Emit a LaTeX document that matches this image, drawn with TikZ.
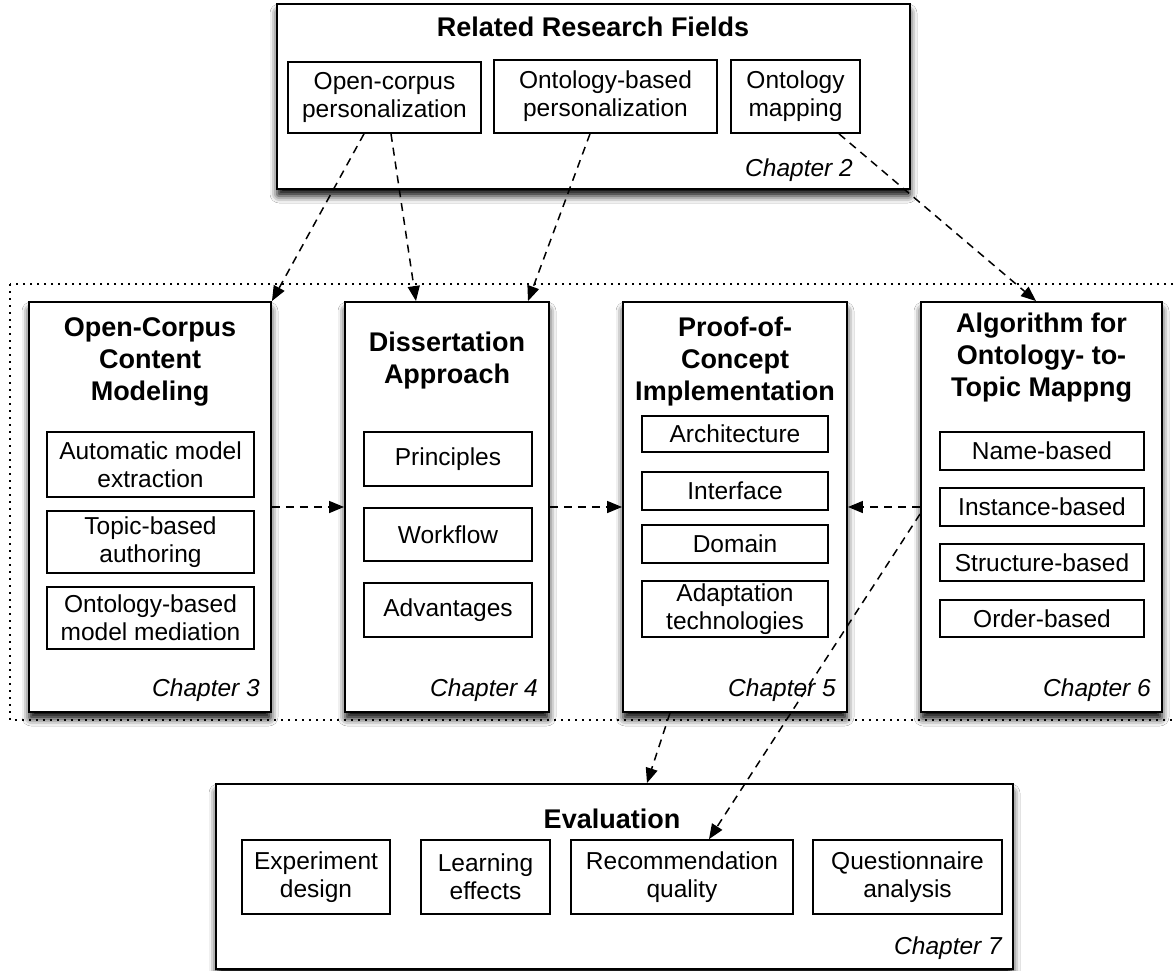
\documentclass[tikz,border=0pt]{standalone}
\usepackage{fontspec}
\setmainfont{Liberation Sans}
\usetikzlibrary{arrows.meta,shadows.blur}
\begin{document}
\begin{tikzpicture}[x=1pt,y=-1pt,
  frame/.style={draw, line width=1.9pt, fill=white, inner sep=0pt,
    blur shadow={shadow xshift=0pt, shadow yshift=-7pt, shadow blur radius=7pt,
      shadow blur extra rounding=2pt, shadow opacity=95}},
  item/.style={draw, line width=1.7pt, fill=white, inner sep=1pt, align=center,
    font=\fontsize{24.5}{28}\selectfont},
  heading/.style={inner sep=0pt, align=center, font=\fontsize{27}{32}\selectfont\bfseries},
  chapter/.style={inner sep=0pt, anchor=base east, font=\fontsize{24.5}{28}\selectfont\itshape},
  link/.style={line width=1.5pt, dash pattern=on 8pt off 6pt, -{Triangle[length=15pt,width=12pt]}},
  group/.style={line width=1.7pt, dash pattern=on 1.7pt off 5.3pt}
]
\useasboundingbox[fill=white] (0,0) rectangle (1175,971);

% grouping frame around the four core chapters
\draw[group] (10,284) rectangle (1195,720);

% related research fields
\node[frame, minimum width=633pt, minimum height=185pt] (rrf) at (593.5,96.5) {};
\node[heading, anchor=base] (rrft) at (593,37) {Related Research Fields};
\node[item, minimum width=193pt, minimum height=71pt] (ocp) at (384.5,97.5) {Open-corpus\\personalization};
\node[item, minimum width=223pt, minimum height=73pt] (obp) at (605.5,96.5) {Ontology-based\\personalization};
\node[item, minimum width=129pt, minimum height=73pt] (omap) at (795.5,96.5) {Ontology\\mapping};
\node[chapter] (ch2) at (853,176) {Chapter 2};

% chapter 3
\node[frame, minimum width=242pt, minimum height=410pt] (c3) at (150,507) {};
\node[heading, anchor=north] (c3t) at (150,317) {Open-Corpus\\Content\\Modeling};
\node[item, minimum width=207pt, minimum height=65pt] (c3a) at (150.5,464.5) {Automatic model\\extraction};
\node[item, minimum width=207pt, minimum height=62pt] (c3b) at (150.5,542) {Topic-based\\authoring};
\node[item, minimum width=207pt, minimum height=62pt] (c3c) at (150.5,618) {Ontology-based\\model mediation};
\node[chapter] (ch3) at (260,696) {Chapter 3};

% chapter 4
\node[frame, minimum width=204pt, minimum height=410pt] (c4) at (447,507) {};
\node[heading, anchor=north] (c4t) at (447,332) {Dissertation\\Approach};
\node[item, minimum width=168pt, minimum height=54pt] (c4a) at (448,459) {Principles};
\node[item, minimum width=168pt, minimum height=53pt] (c4b) at (448,534.5) {Workflow};
\node[item, minimum width=168pt, minimum height=54pt] (c4c) at (448,610) {Advantages};
\node[chapter] (ch4) at (538,696) {Chapter 4};

% chapter 5
\node[frame, minimum width=224pt, minimum height=410pt] (c5) at (735,507) {};
\node[heading, anchor=north] (c5t) at (735,317) {Proof-of-\\Concept\\Implementation};
\node[item, minimum width=186pt, minimum height=36pt] (c5a) at (735,434) {Architecture};
\node[item, minimum width=186pt, minimum height=38pt] (c5b) at (735,491) {Interface};
\node[item, minimum width=186pt, minimum height=38pt] (c5c) at (735,544) {Domain};
\node[item, minimum width=186pt, minimum height=56pt] (c5d) at (735,609) {Adaptation\\technologies};
\node[chapter] (ch5) at (836,696) {Chapter 5};

% chapter 6
\node[frame, minimum width=241pt, minimum height=410pt] (c6) at (1041.5,507) {};
\node[heading, anchor=north] (c6t) at (1041.5,313) {Algorithm for\\Ontology- to-\\Topic Mappng};
\node[item, minimum width=204pt, minimum height=38pt] (c6a) at (1042,451) {Name-based};
\node[item, minimum width=204pt, minimum height=38pt] (c6b) at (1042,507) {Instance-based};
\node[item, minimum width=204pt, minimum height=37pt] (c6c) at (1042,562.5) {Structure-based};
\node[item, minimum width=204pt, minimum height=37pt] (c6d) at (1042,618.5) {Order-based};
\node[chapter] (ch6) at (1151,696) {Chapter 6};

% chapter 7
\node[frame, minimum width=797pt, minimum height=185pt] (eval) at (614.5,876.5) {};
\node[heading, anchor=base] (evalt) at (612,828) {Evaluation};
\node[item, minimum width=148pt, minimum height=74pt] (exd) at (316,877) {Experiment\\design};
\node[item, minimum width=129pt, minimum height=74pt] (lef) at (485.5,877) {Learning\\effects};
\node[item, minimum width=222pt, minimum height=74pt] (recq) at (682,877) {Recommendation\\quality};
\node[item, minimum width=189pt, minimum height=74pt] (qan) at (907.5,877) {Questionnaire\\analysis};
\node[chapter] (ch7) at (1002,954) {Chapter 7};

% dependencies
\draw[link] ([xshift=-20.5pt]ocp.south) -- (c3.north east);
\draw[link] ([xshift=6.5pt]ocp.south) -- ([xshift=-31pt]c4.north);
\draw[link] ([xshift=-15.5pt]obp.south) -- ([xshift=81pt]c4.north);
\draw[link] ([xshift=43.5pt]omap.south) -- ([xshift=-5.5pt]c6.north);
\draw[link] (c3.east) -- (c4.west);
\draw[link] (c4.east) -- (c5.west);
\draw[link] (c6.west) -- (c5.east);
\draw[link] ([yshift=-7pt]c6.west) -- ([xshift=27pt]recq.north);
\draw[link] ([xshift=-65pt]c5.south) -- ([xshift=32.5pt]eval.north);
\end{tikzpicture}
\end{document}
